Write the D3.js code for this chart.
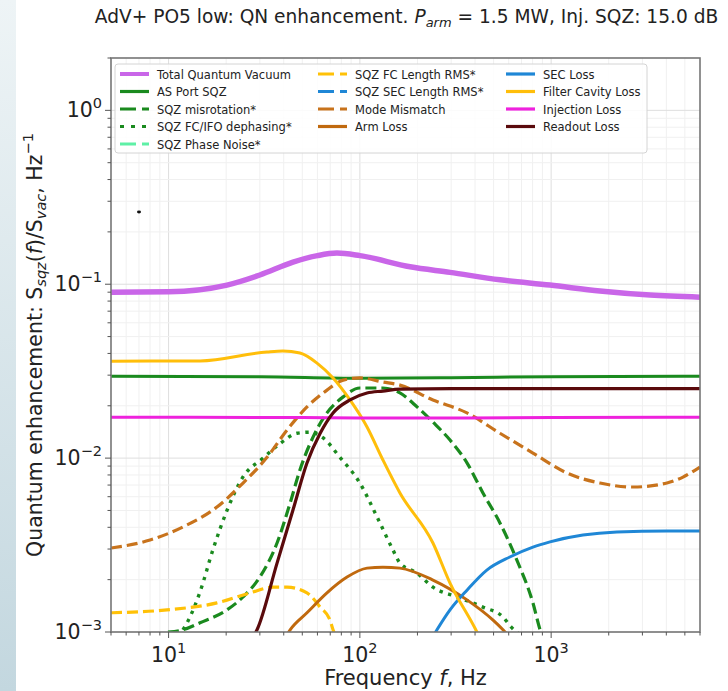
<!DOCTYPE html>
<html><head><meta charset="utf-8">
<script src="https://cdn.jsdelivr.net/npm/d3@7"></script>
<style>html,body{margin:0;padding:0;background:#fff;}svg{display:block;font-family:"DejaVu Sans",sans-serif;}</style>
</head><body><svg id="c" width="728" height="691"></svg>
<script>
// ---- data (frequency Hz, enhancement value) ----
const xDomain = [5, 6000];
const yDomain = [1e-3, 2];
const xTickValues = [10, 100, 1000];
const xTickExps = ["1", "2", "3"];
const yTickValues = [1, 0.1, 0.01, 0.001];
const yTickExps = ["0", "−1", "−2", "−3"];

const totalVacuum = [[5,0.090],[10,0.0905],[20.2,0.0989],[30,0.113],[44.7,0.134],[60,0.146],[75.9,0.151],[100,0.146],[183,0.126],[296,0.117],[540,0.106],[986,0.0989],[1800,0.0914],[3290,0.0866],[6000,0.0843]];
const asPortSqz = [[5,0.0296],[30,0.0294],[100,0.0288],[300,0.0290],[1000,0.0294],[6000,0.0296]];
const sqzMisrotation = [[9.93,0.001],[11.9,0.00103],[14.6,0.00113],[20.2,0.00134],[24.5,0.00159],[30,0.00207],[36.9,0.00325],[43.2,0.00552],[48.6,0.00855],[56.9,0.0132],[67.3,0.0182],[81.8,0.0225],[100,0.0253],[132,0.0253],[162,0.0237],[199,0.0197],[241,0.0161],[296,0.0127],[363,0.0094],[440,0.0063],[540,0.00424],[662,0.00259],[803,0.00147],[875,0.00103],[950,0.0008]];
const sqzDephasing = [[11.9,0.00103],[12.5,0.00113],[14.6,0.00170],[17.1,0.00300],[20.2,0.00500],[24.5,0.0078],[31.2,0.0100],[38.2,0.0121],[46.9,0.0139],[54.8,0.0141],[64.1,0.0131],[78.7,0.0101],[100,0.00719],[123,0.00459],[149,0.00296],[162,0.00249],[199,0.00218],[241,0.00181],[322,0.00159],[440,0.00139],[560,0.00122],[617,0.00107],[700,0.00095]];
const sqzPhaseNoise = [];
const sqzFcLengthRms = [[5,0.00129],[9.8,0.00134],[17.9,0.00147],[26.7,0.00168],[35.2,0.00181],[41.6,0.00181],[52.9,0.00168],[62,0.00139],[69.8,0.00117],[72.4,0.00103],[76,0.0009]];
const sqzSecLengthRms = [];
const modeMismatch = [[5,0.00304],[8,0.00338],[11.9,0.00402],[17.9,0.00523],[24.5,0.00719],[32.7,0.0101],[41.6,0.0145],[52.9,0.0197],[67.3,0.0246],[81.8,0.0281],[100,0.0289],[132,0.0274],[162,0.0263],[241,0.0216],[363,0.0182],[540,0.0139],[803,0.0107],[1211,0.0082],[1800,0.00719],[2680,0.00682],[4030,0.00719],[4890,0.00778],[6000,0.00889]];
const armLoss = [[40,0.0009],[43.2,0.00103],[52.9,0.00129],[67.3,0.00168],[85.7,0.00207],[109,0.00233],[132,0.00236],[162,0.00233],[241,0.00199],[363,0.00153],[497,0.00117],[560,0.00103],[600,0.00095]];
const secLoss = [[235,0.0009],[253,0.00103],[296,0.00134],[363,0.00174],[461,0.00227],[608,0.0027],[803,0.00308],[986,0.0033],[1466,0.00361],[2207,0.00376],[4030,0.00381],[6000,0.00381]];
const filterCavityLoss = [[5,0.0361],[14.6,0.0362],[32.7,0.0408],[39.6,0.0413],[48.6,0.0402],[59.7,0.0352],[72.4,0.0289],[88.8,0.0216],[109,0.0151],[132,0.00975],[162,0.0063],[241,0.00325],[296,0.00191],[409,0.001],[450,0.0008]];
const injectionLoss = [[5,0.0172],[50,0.0171],[100,0.0170],[300,0.0170],[1000,0.0171],[6000,0.0172]];
const readoutLoss = [[27,0.0009],[29,0.00103],[36.9,0.00249],[44.7,0.00503],[52.9,0.00937],[62,0.0139],[72.4,0.0182],[88.8,0.0216],[109,0.0237],[132,0.0243],[162,0.0249],[300,0.0251],[1000,0.0251],[6000,0.0251]];

// ---- styling / layout ----
const series = [
  {name:"Total Quantum Vacuum", data:totalVacuum, color:"#c966e8", w:5.5, dash:null, ldash:null},
  {name:"AS Port SQZ", data:asPortSqz, color:"#1a8a1e", w:3, dash:null, ldash:null},
  {name:"SQZ misrotation*", data:sqzMisrotation, color:"#1a8a1e", w:3.2, dash:"11,5", ldash:"16,6"},
  {name:"SQZ FC/IFO dephasing*", data:sqzDephasing, color:"#1a8a1e", w:3.4, dash:"3.4,5.6", ldash:"4,7"},
  {name:"SQZ Phase Noise*", data:sqzPhaseNoise, color:"#5ef0a6", w:3, dash:"11,5", ldash:"16,6"},
  {name:"SQZ FC Length RMS*", data:sqzFcLengthRms, color:"#ffc107", w:3.2, dash:"11,5", ldash:"16,6"},
  {name:"SQZ SEC Length RMS*", data:sqzSecLengthRms, color:"#1f87d6", w:3, dash:"11,5", ldash:"16,6"},
  {name:"Mode Mismatch", data:modeMismatch, color:"#c8731c", w:3.2, dash:"11,5", ldash:"16,6"},
  {name:"Arm Loss", data:armLoss, color:"#c0690e", w:3, dash:null, ldash:null},
  {name:"SEC Loss", data:secLoss, color:"#1f87d6", w:3, dash:null, ldash:null},
  {name:"Filter Cavity Loss", data:filterCavityLoss, color:"#ffbe0a", w:3, dash:null, ldash:null},
  {name:"Injection Loss", data:injectionLoss, color:"#ee22dd", w:3, dash:null, ldash:null},
  {name:"Readout Loss", data:readoutLoss, color:"#5a0a0c", w:3.2, dash:null, ldash:null}
];

const L = 111, R = 700, T = 58, B = 632;
const svg = d3.select("#c");
const x = d3.scaleLog().domain(xDomain).range([L, R]);
const y = d3.scaleLog().domain(yDomain).range([B, T]);

// left strip artifact
const defs = svg.append("defs");
const grad = defs.append("linearGradient").attr("id","strip").attr("x1",0).attr("y1",0).attr("x2",0).attr("y2",1);
grad.append("stop").attr("offset","0%").attr("stop-color","#eef4f6");
grad.append("stop").attr("offset","100%").attr("stop-color","#c3d7df");
svg.append("rect").attr("x",0).attr("y",0).attr("width",16).attr("height",691).attr("fill","url(#strip)");

defs.append("clipPath").attr("id","clip").append("rect").attr("x",L).attr("y",T).attr("width",R-L).attr("height",B-T);

// grid
const minorX = [];
for (let d = 1; d <= 1000; d *= 10) for (let k = 1; k < 10; k++) { const v = d*k; if (v >= xDomain[0] && v <= xDomain[1]) minorX.push(v); }
const minorY = [];
for (let d = 0.001; d <= 1.5; d *= 10) for (let k = 1; k < 10; k++) { const v = d*k; if (v >= yDomain[0] && v <= yDomain[1]*1.0001) minorY.push(v); }
const g = svg.append("g");
g.selectAll(".gx").data(minorX).join("line")
  .attr("x1",d=>x(d)).attr("x2",d=>x(d)).attr("y1",T).attr("y2",B)
  .attr("stroke",d=>xTickValues.includes(d)?"#dedede":"#f0f0f0").attr("stroke-width",1);
g.selectAll(".gy").data(minorY).join("line")
  .attr("y1",d=>y(d)).attr("y2",d=>y(d)).attr("x1",L).attr("x2",R)
  .attr("stroke",d=>yTickValues.some(t=>Math.abs(t-d)/t<1e-6)?"#dedede":"#f0f0f0").attr("stroke-width",1);

// lines
const line = d3.line().x(d=>x(d[0])).y(d=>y(d[1])).curve(d3.curveMonotoneX);
const lg = svg.append("g").attr("clip-path","url(#clip)");
series.forEach(s => {
  if (!s.data.length) return;
  lg.append("path").attr("d", line(s.data)).attr("fill","none")
    .attr("stroke", s.color).attr("stroke-width", s.w)
    .attr("stroke-dasharray", s.dash).attr("stroke-linecap","butt").attr("stroke-linejoin","round");
});

// frame
svg.append("rect").attr("x",L).attr("y",T).attr("width",R-L).attr("height",B-T)
  .attr("fill","none").attr("stroke","#777").attr("stroke-width",1.6);

// ticks
const tk = svg.append("g").attr("stroke","#555").attr("stroke-width",1);
minorX.forEach(v => { const maj = xTickValues.includes(v); tk.append("line").attr("x1",x(v)).attr("x2",x(v)).attr("y1",B).attr("y2",B+(maj?6:3.5)); });
minorY.forEach(v => { const maj = yTickValues.some(t=>Math.abs(t-v)/t<1e-6); tk.append("line").attr("y1",y(v)).attr("y2",y(v)).attr("x1",L).attr("x2",L-(maj?6:3.5)); });

xTickValues.forEach((v,i) => {
  const t = svg.append("text").attr("x",x(v)).attr("y",662).attr("text-anchor","middle")
    .attr("font-size",20.5).attr("fill","#222");
  t.append("tspan").text("10");
  t.append("tspan").attr("dy",-9).attr("font-size",14.5).text(xTickExps[i]);
});
yTickValues.forEach((v,i) => {
  const t = svg.append("text").attr("x",L-9).attr("y",y(v)+7).attr("text-anchor","end")
    .attr("font-size",20.5).attr("fill","#222");
  t.append("tspan").text("10");
  t.append("tspan").attr("dy",-9).attr("font-size",14.5).text(yTickExps[i]);
});

// axis labels
svg.append("text").attr("x",(L+R)/2).attr("y",685).attr("text-anchor","middle").attr("font-size",21).attr("fill","#222")
  .call(t=>{ t.append("tspan").text("Frequency "); t.append("tspan").attr("font-style","italic").text("f"); t.append("tspan").text(", Hz"); });

const yl = svg.append("text").attr("transform",`translate(42,${(T+B)/2}) rotate(-90)`).attr("text-anchor","middle").attr("font-size",20.5).attr("fill","#222");
yl.append("tspan").text("Quantum enhancement: S");
yl.append("tspan").attr("dy",4).attr("font-size",14.5).attr("font-style","italic").text("sqz");
yl.append("tspan").attr("dy",-4).text("(");
yl.append("tspan").attr("font-style","italic").text("f");
yl.append("tspan").text(")/S");
yl.append("tspan").attr("dy",4).attr("font-size",14.5).attr("font-style","italic").text("vac");
yl.append("tspan").attr("dy",-4).text(", Hz");
yl.append("tspan").attr("dy",-9).attr("font-size",14.5).text("−1");

// title
const tt = svg.append("text").attr("x",(L+R)/2 + 1).attr("y",23).attr("text-anchor","middle").attr("font-size",18.6).attr("fill","#222");
tt.append("tspan").text("AdV+ PO5 low: QN enhancement. ");
tt.append("tspan").attr("font-style","italic").text("P");
tt.append("tspan").attr("dy",4).attr("font-size",13).attr("font-style","italic").text("arm");
tt.append("tspan").attr("dy",-4).text(" = 1.5 MW, Inj. SQZ: 15.0 dB");

// legend
svg.append("rect").attr("x",115).attr("y",64).attr("width",532).attr("height",89).attr("rx",3)
  .attr("fill","#fff").attr("fill-opacity",0.85).attr("stroke","#d4d4d4").attr("stroke-width",1);
const colX = [120, 318, 506];
const rowY = [74, 91.5, 109, 126.5, 144];
const perCol = [5, 4, 4];
let idx = 0;
perCol.forEach((n, c) => {
  for (let r = 0; r < n; r++) {
    const s = series[idx++];
    const yy = rowY[r];
    svg.append("line").attr("x1",colX[c]).attr("x2",colX[c]+29).attr("y1",yy).attr("y2",yy)
      .attr("stroke",s.color).attr("stroke-width", s.w > 4 ? 4 : 3.2).attr("stroke-dasharray", s.ldash);
    svg.append("text").attr("x",colX[c]+37).attr("y",yy+4.5).attr("font-size",11.5).attr("fill","#222").text(s.name);
  }
});

// stray mark in the reference
svg.append("ellipse").attr("cx",139).attr("cy",212).attr("rx",2).attr("ry",1.4).attr("fill","#111");
</script></body></html>
